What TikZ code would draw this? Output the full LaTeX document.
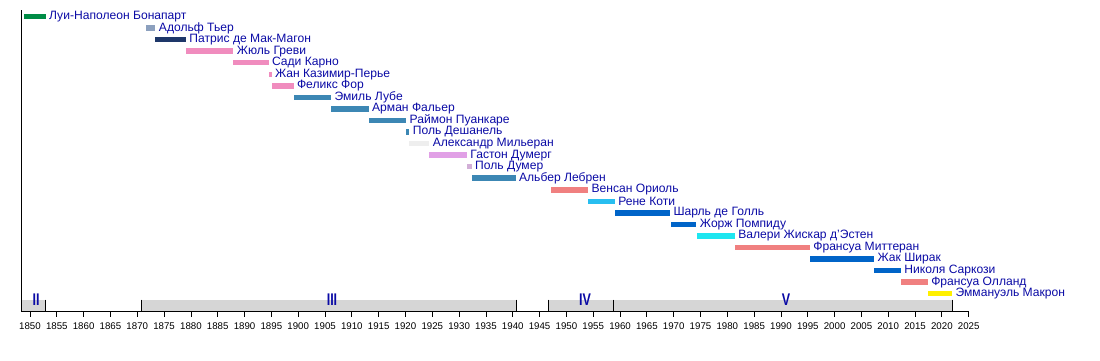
\documentclass[tikz,border=0pt]{standalone}
\usepackage{fontspec}
\setmainfont{Liberation Sans}
\definecolor{labblue}{RGB}{10,10,165}
\definecolor{cbona}{RGB}{0,140,70}
\definecolor{cthiers}{RGB}{140,160,190}
\definecolor{cnavy}{RGB}{30,55,105}
\definecolor{cpink}{RGB}{240,140,190}
\definecolor{csteel}{RGB}{60,135,180}
\definecolor{clgray}{RGB}{238,238,238}
\definecolor{corchid}{RGB}{225,160,230}
\definecolor{cplum}{RGB}{210,175,215}
\definecolor{ccoral}{RGB}{240,128,128}
\definecolor{csky}{RGB}{40,190,240}
\definecolor{cblue}{RGB}{0,100,200}
\definecolor{ccyan}{RGB}{30,230,240}
\definecolor{cyell}{RGB}{255,240,0}
\definecolor{pgray}{RGB}{214,214,214}
\tikzset{
  bar/.style={draw=none, inner sep=0pt, outer sep=0pt, minimum height=5.5pt},
  lab/.style={inner sep=0pt, outer sep=0pt, text=labblue, font=\fontsize{12.1}{12.5}\selectfont, xshift=3.5pt},
  period/.style={fill=pgray, draw=none},
  sep/.style={draw=black, line width=0.9pt},
  axisline/.style={draw=black, line width=0.9pt},
  ticklab/.style={inner sep=0pt, font=\fontsize{9.7}{10}\selectfont, text=black},
  perlab/.style={inner sep=0pt, text=labblue, font=\fontsize{12.5}{12.5}\selectfont}
}
\newcommand\prez[6]{%
  \node[bar, fill=#5, anchor=west, minimum width={(#4-#3)*5.364pt}] (#1) at ({30+(#3-1850)*5.364},{16.5+(#2-1)*11.55}) {};
  \node[lab, anchor=west] (#1l) at (#1.east) {#6};
}
\begin{document}
\begin{tikzpicture}[x=1pt,y=-1pt]
\useasboundingbox (0,0) rectangle (1100,360);
% periods
\fill[period] (21,299.5) rectangle (45,311);
\fill[period] (141,299.5) rectangle (516,311);
\fill[period] (548,299.5) rectangle (613,311);
\fill[period] (613,299.5) rectangle (952,311);
\coordinate (s1t) at (45,299.5); \coordinate (s1b) at (45,311);
\coordinate (s2t) at (141,299.5); \coordinate (s2b) at (141,311);
\coordinate (s3t) at (516,299.5); \coordinate (s3b) at (516,311);
\coordinate (s4t) at (548,299.5); \coordinate (s4b) at (548,311);
\coordinate (s5t) at (613,299.5); \coordinate (s5b) at (613,311);
\coordinate (s6t) at (952,299.5); \coordinate (s6b) at (952,311);
\foreach \i in {1,...,6} {\draw[sep] (s\i t) -- (s\i b);}
\node[perlab] (pII) at (36,299.5) {\scalebox{1}[1.35]{\textbf{II}}};
\node[perlab] (pIII) at (332,299.5) {\scalebox{1}[1.35]{\textbf{III}}};
\node[perlab] (pIV) at (585,299.5) {\scalebox{1}[1.35]{\textbf{IV}}};
\node[perlab] (pV) at (786,299.5) {\scalebox{1}[1.35]{\textbf{V}}};
% axes
\coordinate (otop) at (21,10);
\coordinate (orig) at (21,311);
\coordinate (xend) at (968.7,311);
\draw[axisline] (otop) -- (orig) -- (xend);
\foreach \y in {1850,1855,...,2025} {
  \coordinate (t\y) at ({30+(\y-1850)*5.364},311);
  \draw[black, line width=0.8pt] (t\y) -- ++(0,5.5);
  \node[ticklab] (l\y) at ({30+(\y-1850)*5.364},326) {\y};
}
% presidents
\prez{lnb}{1}{1848.97}{1852.92}{cbona}{Луи-Наполеон Бонапарт}
\prez{thi}{2}{1871.66}{1873.39}{cthiers}{Адольф Тьер}
\prez{mac}{3}{1873.39}{1879.08}{cnavy}{Патрис де Мак-Магон}
\prez{gre}{4}{1879.08}{1887.92}{cpink}{Жюль Греви}
\prez{car}{5}{1887.92}{1894.48}{cpink}{Сади Карно}
\prez{cas}{6}{1894.49}{1895.04}{cpink}{Жан Казимир-Перье}
\prez{fau}{7}{1895.04}{1899.13}{cpink}{Феликс Фор}
\prez{lou}{8}{1899.13}{1906.13}{csteel}{Эмиль Лубе}
\prez{fal}{9}{1906.13}{1913.13}{csteel}{Арман Фальер}
\prez{poi}{10}{1913.13}{1920.13}{csteel}{Раймон Пуанкаре}
\prez{des}{11}{1920.13}{1920.72}{csteel}{Поль Дешанель}
\prez{mil}{12}{1920.73}{1924.44}{clgray}{Александр Мильеран}
\prez{dmg}{13}{1924.45}{1931.45}{corchid}{Гастон Думерг}
\prez{dmr}{14}{1931.45}{1932.35}{cplum}{Поль Думер}
\prez{leb}{15}{1932.36}{1940.53}{csteel}{Альбер Лебрен}
\prez{aur}{16}{1947.04}{1954.04}{ccoral}{Венсан Ориоль}
\prez{cot}{17}{1954.04}{1959.02}{csky}{Рене Коти}
\prez{gau}{18}{1959.02}{1969.32}{cblue}{Шарль де Голль}
\prez{pom}{19}{1969.47}{1974.25}{cblue}{Жорж Помпиду}
\prez{gis}{20}{1974.40}{1981.39}{ccyan}{Валери Жискар д’Эстен}
\prez{mit}{21}{1981.39}{1995.38}{ccoral}{Франсуа Миттеран}
\prez{chi}{22}{1995.38}{2007.37}{cblue}{Жак Ширак}
\prez{sar}{23}{2007.37}{2012.37}{cblue}{Николя Саркози}
\prez{hol}{24}{2012.37}{2017.37}{ccoral}{Франсуа Олланд}
\prez{mcr}{25}{2017.37}{2021.9}{cyell}{Эммануэль Макрон}
\end{tikzpicture}
\end{document}
